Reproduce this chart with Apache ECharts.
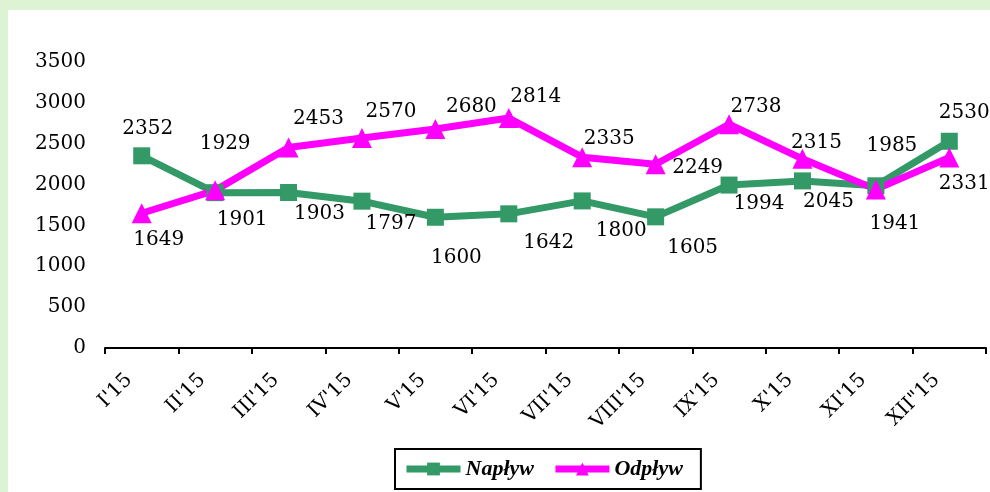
<!DOCTYPE html>
<html>
<head>
<meta charset="utf-8">
<script src="https://cdn.jsdelivr.net/npm/echarts@6/dist/echarts.min.js"></script>
<style>
  html, body { margin: 0; padding: 0; background: #def2d4; }
  #chart { position: absolute; left: 8px; top: 10px; width: 982px; height: 482px; background: #ffffff; }
</style>
</head>
<body>
<div id="chart"></div>
<script>
// dane
var months = ["I'15", "II'15", "III'15", "IV'15", "V'15", "VI'15", "VII'15", "VIII'15", "IX'15", "X'15", "XI'15", "XII\"15"];
var naplyw = [2352, 1901, 1903, 1797, 1600, 1642, 1800, 1605, 1994, 2045, 1985, 2530];
var odplyw = [1649, 1929, 2453, 2570, 2680, 2814, 2335, 2249, 2738, 2315, 1941, 2331];
var yTicks = [0, 500, 1000, 1500, 2000, 2500, 3000, 3500];

// przesuniecia etykiet wzgledem punktow
var naplywOffsets = [[6, -27], [27, 27], [31, 21], [29, 23], [21, 41], [40, 29], [39, 30], [37, 31], [30, 19], [26, 21], [16, -40], [15, -28]];
var odplywOffsets = [[17, 27], [10, -47], [30, -29], [29, -26], [36, -22], [27, -21], [27, -18], [42, 4], [27, -17], [14, -16], [19, 34], [15, 26]];

var labelFont = 'DejaVu Serif';

function withLabels(values, offsets) {
    return values.map(function (v, i) {
        return { value: v, label: { position: 'inside', offset: offsets[i] } };
    });
}

var chart = echarts.init(document.getElementById('chart'));

var option = {
    animation: false,
    grid: { left: 97, right: 4, top: 52, height: 286, containLabel: false },
    legend: {
        left: 387,
        top: 439,
        padding: [9, 18, 9, 8],
        borderColor: '#000',
        borderWidth: 2,
        itemWidth: 54,
        itemHeight: 16,
        itemGap: 18,
        lineStyle: { width: 7 },
        textStyle: { fontFamily: 'Liberation Serif', fontStyle: 'italic', fontWeight: 'bold', fontSize: 22, color: '#000' },
        data: ['Napływ', 'Odpływ']
    },
    xAxis: {
        type: 'category',
        data: months,
        boundaryGap: true,
        axisLine: { lineStyle: { color: '#000', width: 2 } },
        axisTick: { show: true, length: 6, lineStyle: { color: '#000', width: 2 } },
        axisLabel: { rotate: 45, margin: 16, padding: [0, 18, 0, 0], fontFamily: labelFont, fontSize: 20, color: '#000', interval: 0 },
        splitLine: { show: false }
    },
    yAxis: {
        type: 'value',
        min: yTicks[0],
        max: yTicks[yTicks.length - 1],
        interval: 500,
        axisLine: { show: false },
        axisTick: { show: false },
        splitLine: { show: false },
        axisLabel: { margin: 19, fontFamily: labelFont, fontSize: 20, color: '#000', formatter: function (v) { return String(v); } }
    },
    series: [
        {
            name: 'Napływ',
            type: 'line',
            data: withLabels(naplyw, naplywOffsets),
            symbol: 'rect',
            symbolSize: 17,
            lineStyle: { color: '#339966', width: 7 },
            itemStyle: { color: '#339966' },
            label: { show: true, fontFamily: labelFont, fontSize: 20, color: '#000' }
        },
        {
            name: 'Odpływ',
            type: 'line',
            data: withLabels(odplyw, odplywOffsets),
            symbol: 'triangle',
            symbolSize: 20,
            lineStyle: { color: '#ff00ff', width: 7 },
            itemStyle: { color: '#ff00ff' },
            label: { show: true, fontFamily: labelFont, fontSize: 20, color: '#000' }
        }
    ]
};

chart.setOption(option);
</script>
</body>
</html>
